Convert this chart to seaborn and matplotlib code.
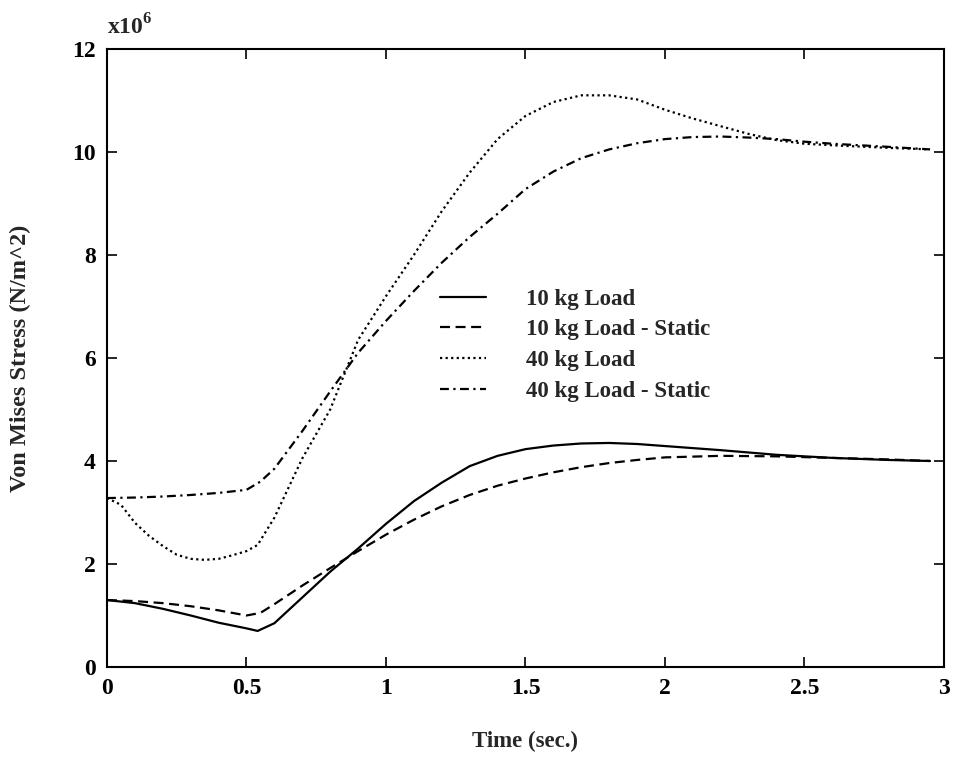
import numpy as np
import pandas as pd
import matplotlib
matplotlib.use("Agg")
import matplotlib.pyplot as plt
import seaborn as sns

# ---- data (stress in units of 1e6 N/m^2) ----
t_10 = [0, 0.1, 0.2, 0.3, 0.4, 0.5, 0.54, 0.6, 0.7, 0.8, 0.9, 1.0, 1.1, 1.2, 1.3,
        1.4, 1.5, 1.6, 1.7, 1.8, 1.9, 2.0, 2.2, 2.4, 2.6, 2.8, 2.95]
y_10 = [1.30, 1.24, 1.13, 1.00, 0.86, 0.75, 0.70, 0.85, 1.35, 1.85, 2.30, 2.78, 3.22,
        3.58, 3.90, 4.10, 4.23, 4.30, 4.34, 4.35, 4.33, 4.29, 4.21, 4.12, 4.06, 4.02, 4.00]

t_10s = [0, 0.1, 0.2, 0.3, 0.4, 0.5, 0.55, 0.6, 0.7, 0.8, 0.9, 1.0, 1.1, 1.2, 1.3,
         1.4, 1.5, 1.6, 1.7, 1.8, 1.9, 2.0, 2.2, 2.4, 2.6, 2.8, 2.95]
y_10s = [1.30, 1.28, 1.24, 1.18, 1.10, 1.00, 1.05, 1.22, 1.58, 1.92, 2.25, 2.57, 2.86,
         3.12, 3.34, 3.52, 3.66, 3.78, 3.88, 3.96, 4.02, 4.07, 4.10, 4.09, 4.06, 4.03, 4.00]

t_40 = [0, 0.05, 0.1, 0.15, 0.2, 0.25, 0.3, 0.35, 0.4, 0.45, 0.5, 0.54, 0.6, 0.7, 0.8,
        0.9, 1.0, 1.1, 1.2, 1.3, 1.4, 1.5, 1.6, 1.7, 1.8, 1.9, 2.0, 2.1, 2.2, 2.3, 2.4,
        2.5, 2.6, 2.8, 2.95]
y_40 = [3.28, 3.15, 2.80, 2.55, 2.35, 2.18, 2.10, 2.08, 2.10, 2.17, 2.25, 2.37, 2.90,
        4.05, 5.00, 6.35, 7.20, 8.00, 8.85, 9.60, 10.25, 10.70, 10.97, 11.10, 11.10,
        11.02, 10.82, 10.65, 10.50, 10.35, 10.23, 10.16, 10.13, 10.08, 10.05]

t_40s = [0, 0.1, 0.2, 0.3, 0.4, 0.5, 0.55, 0.6, 0.7, 0.8, 0.9, 1.0, 1.1, 1.2, 1.3,
         1.4, 1.5, 1.6, 1.7, 1.8, 1.9, 2.0, 2.1, 2.2, 2.3, 2.4, 2.5, 2.6, 2.8, 2.95]
y_40s = [3.28, 3.29, 3.31, 3.34, 3.38, 3.44, 3.60, 3.85, 4.58, 5.35, 6.10, 6.72, 7.30,
         7.85, 8.35, 8.80, 9.28, 9.62, 9.88, 10.05, 10.17, 10.25, 10.29, 10.30, 10.28,
         10.25, 10.20, 10.16, 10.10, 10.05]

labels = ["10 kg Load", "10 kg Load - Static", "40 kg Load", "40 kg Load - Static"]
x_ticks = [0, 0.5, 1, 1.5, 2, 2.5, 3]
x_ticklabels = ["0", "0.5", "1", "1.5", "2", "2.5", "3"]
y_ticks = [0, 2, 4, 6, 8, 10, 12]

# ---- style ----
sns.set_style("ticks")
plt.rcParams["font.family"] = ["Liberation Serif", "DejaVu Serif"]
plt.rcParams["font.weight"] = "bold"
plt.rcParams["mathtext.fontset"] = "custom"
plt.rcParams["mathtext.rm"] = "Liberation Serif:bold"

fig = plt.figure(figsize=(9.57, 7.57), dpi=100)
ax = fig.add_axes([0.1118, 0.1189, 0.8746, 0.8164])

series = [
    (t_10, y_10, labels[0], "-"),
    (t_10s, y_10s, labels[1], (0, (4.5, 2.5))),
    (t_40, y_40, labels[2], (0, (1, 1.5))),
    (t_40s, y_40s, labels[3], (0, (4, 2, 1, 2))),
]
for tt, yy, lab, ls in series:
    df = pd.DataFrame({"t": tt, "y": yy})
    sns.lineplot(data=df, x="t", y="y", ax=ax, color="black", linestyle=ls,
                 linewidth=1.6, label=lab, sort=False, estimator=None)

ax.set_xlim(0, 3)
ax.set_ylim(0, 12)
ax.set_xticks(x_ticks)
ax.set_xticklabels(x_ticklabels)
ax.set_yticks(y_ticks)
ax.tick_params(direction="in", top=True, right=True, length=7, width=1.2,
               labelsize=17, pad=8, colors="black")
for lbl in ax.get_xticklabels() + ax.get_yticklabels():
    lbl.set_fontweight("bold")
for s in ax.spines.values():
    s.set_linewidth(1.5)
    s.set_color("black")

ax.set_xlabel("Time (sec.)", fontsize=16.5, fontweight="bold", labelpad=23)
ax.set_ylabel("Von Mises Stress (N/m^2)", fontsize=17.5, fontweight="bold", labelpad=30)

ax.text(0.0, 1.015, r"x10$^{\mathregular{6}}$", transform=ax.transAxes,
        fontsize=17, fontweight="bold", ha="left", va="bottom")

leg = ax.legend(loc="upper left", bbox_to_anchor=(0.398, 0.612), frameon=False,
                prop={"size": 16.5, "weight": "bold"}, handlelength=2.0,
                handletextpad=1.75, labelspacing=0.42, borderpad=0, borderaxespad=0)

fig.savefig("out.png", dpi=100, facecolor="white")
